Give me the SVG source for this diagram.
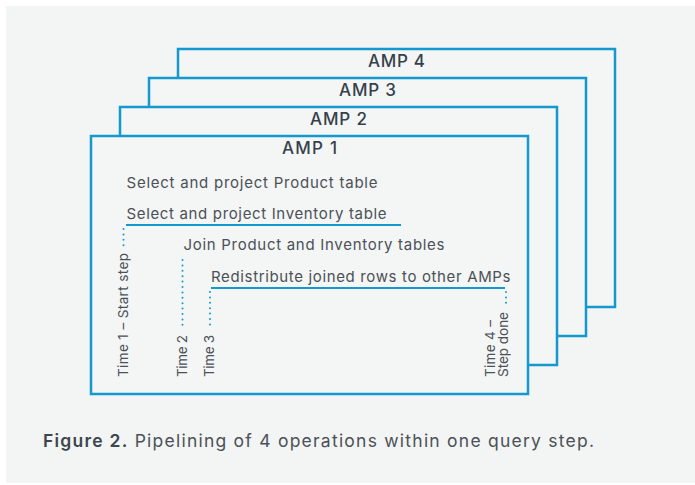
<svg xmlns="http://www.w3.org/2000/svg" width="695" height="485" viewBox="0 0 695 485">
  <style>
    .amp { fill: #f4f5f5; stroke: #1499cf; stroke-width: 2.5; }
    .title { font-family: Inter, "Liberation Sans", sans-serif; font-size: 17px; font-weight: 500; fill: #36414b; text-anchor: middle; }
    .op { font-family: Inter, "Liberation Sans", sans-serif; font-size: 15px; fill: #4b5157; }
    .tick { font-family: Inter, "Liberation Sans", sans-serif; font-size: 13.5px; fill: #4b5157; }
    .bar { stroke: #1499cf; stroke-width: 2; fill: none; }
    .dots { stroke: #1499cf; stroke-width: 2; stroke-linecap: round; stroke-dasharray: 0 5.4; fill: none; }
    .cap { font-family: Inter, "Liberation Sans", sans-serif; font-size: 17.5px; fill: #4b5157; }
  </style>
  <rect x="0" y="0" width="695" height="485" fill="#ffffff"/>
  <rect x="6" y="6" width="689" height="477" fill="#f3f4f4"/>

  <!-- stacked AMP panels, back to front -->
  <g id="amp4">
    <rect class="amp" x="178" y="49" width="437" height="258"/>
    <text class="title" x="396.5" y="67" textLength="57">AMP 4</text>
  </g>
  <g id="amp3">
    <rect class="amp" x="149" y="78" width="437" height="258"/>
    <text class="title" x="367.5" y="96" textLength="57">AMP 3</text>
  </g>
  <g id="amp2">
    <rect class="amp" x="120" y="107" width="437" height="258"/>
    <text class="title" x="338.5" y="125" textLength="57">AMP 2</text>
  </g>
  <g id="amp1">
    <rect class="amp" x="91" y="136" width="437" height="258"/>
    <text class="title" x="309.5" y="154" textLength="55">AMP 1</text>
  </g>

  <!-- operations within the step -->
  <g id="op-product">
    <text class="op" x="126.5" y="187.5" textLength="251">Select and project Product table</text>
  </g>
  <g id="op-inventory">
    <text class="op" x="126.5" y="218.5" textLength="260">Select and project Inventory table</text>
  </g>
  <g id="op-join">
    <text class="op" x="183.5" y="250" textLength="261">Join Product and Inventory tables</text>
  </g>
  <g id="op-redistribute">
    <text class="op" x="211" y="281.5" textLength="299.5">Redistribute joined rows to other AMPs</text>
  </g>

  <!-- time markers -->
  <g id="time1">
    <text class="tick" transform="translate(127.5 377) rotate(-90)" textLength="124">Time 1 – Start step</text>
  </g>
  <g id="time2">
    <text class="tick" transform="translate(186.5 377) rotate(-90)" textLength="42">Time 2</text>
  </g>
  <g id="time3">
    <text class="tick" transform="translate(214 377) rotate(-90)" textLength="42">Time 3</text>
  </g>
  <g id="time4">
    <text class="tick" transform="translate(495 377) rotate(-90)">
      <tspan x="0" y="0" textLength="57">Time 4 –</tspan>
      <tspan x="0" y="13" textLength="65">Step done</tspan>
    </text>
  </g>

  <!-- timing bars and dotted leaders -->
  <g id="connectors">
    <line class="bar" x1="126" y1="225" x2="401" y2="225"/>
    <line class="bar" x1="211" y1="288" x2="505" y2="288"/>
    <line class="dots" x1="123.5" y1="229" x2="123.5" y2="250"/>
    <line class="dots" x1="182.5" y1="260" x2="182.5" y2="327"/>
    <line class="dots" x1="210" y1="292" x2="210" y2="329"/>
    <line class="dots" x1="506" y1="292" x2="506" y2="308"/>
  </g>

  <g id="caption">
    <text class="cap" x="43" y="447" textLength="551"><tspan font-weight="600" fill="#3c464f">Figure 2.</tspan> Pipelining of 4 operations within one query step.</text>
  </g>
</svg>
